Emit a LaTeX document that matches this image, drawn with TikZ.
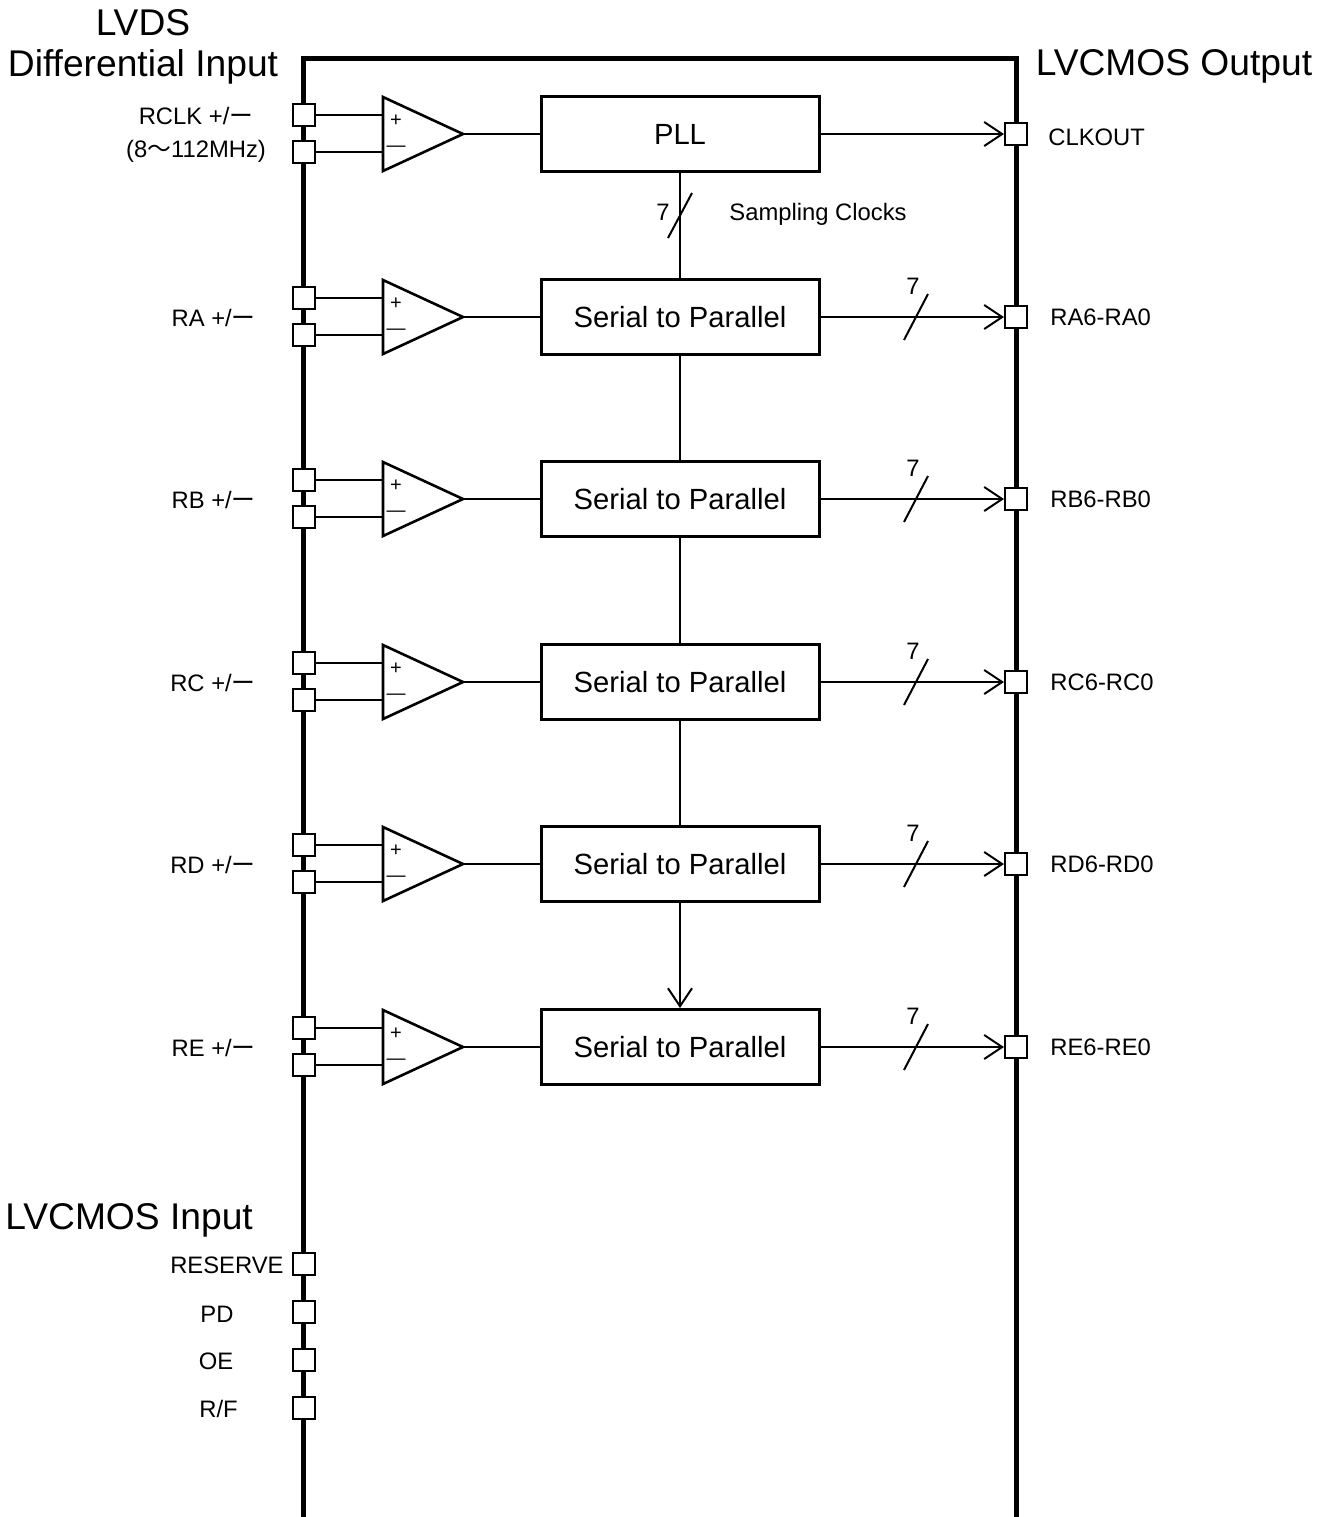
\documentclass[tikz,border=0pt]{standalone}
\usepackage{fontspec}
\setmainfont{Liberation Sans}
\newfontfamily\cjk{Noto Sans CJK JP}
\usetikzlibrary{arrows.meta}
\begin{document}
\begin{tikzpicture}[x=0.5pt,y=-0.5pt,
  pin/.style={draw,fill=white,line width=1pt,minimum size=11pt,inner sep=0pt},
  blk/.style={draw,line width=1.5pt,minimum width=139pt,minimum height=37.5pt,inner sep=0pt,font=\fontsize{14.6}{17}\selectfont},
  wire/.style={line width=1pt},
  amp/.style={line width=1.3pt,line join=miter},
  arr/.style={-{Straight Barb[length=9pt,width=12pt]}},
  lbl/.style={inner sep=0pt,font=\fontsize{11.9}{14}\selectfont},
  sgn/.style={inner sep=0pt,font=\fontsize{10}{12}\selectfont},
  head/.style={inner sep=0pt,font=\fontsize{18.6}{22}\selectfont},
]
\useasboundingbox (0,0) rectangle (1334,1517);
% chip outline
\draw[line width=2.5pt,line join=miter] (303,1530) -- (303,58) -- (1016,58) -- (1016,1530);
% headings
\node[head,anchor=base] (h1) at (143,35) {LVDS};
\node[head,anchor=base] (h2) at (143,76) {Differential Input};
\node[head,anchor=base] (h3) at (1174,75) {LVCMOS Output};
\node[head,anchor=base west] (h4) at (5,1229) {LVCMOS Input};
% blocks
\node[blk] (b0) at (680,134) {PLL};
\foreach \i/\yc in {1/317,2/499,3/682,4/864,5/1047}
  \node[blk] (b\i) at (680,\yc) {Serial to Parallel};
% rows
\foreach \i/\yc in {0/134,1/317,2/499,3/682,4/864,5/1047} {
  \node[pin] (pa\i) at (304,\yc-19) {};
  \node[pin] (pb\i) at (304,\yc+18) {};
  \coordinate (ap\i) at (383,\yc-19);
  \coordinate (am\i) at (383,\yc+18);
  \coordinate (ao\i) at (463,\yc);
  \draw[amp] (383,\yc-37) -- (ao\i) -- (383,\yc+37) -- cycle;
  \draw[wire] (pa\i) -- (ap\i);
  \draw[wire] (pb\i) -- (am\i);
  \node[sgn] (sp\i) at (396,\yc-13.5) {+};
  \node[sgn,font=\fontsize{9.5}{10}\selectfont] (sm\i) at (396,\yc+14.5) {—};
  \draw[wire] (ao\i) -- (b\i);
  \node[pin] (o\i) at (1016,\yc) {};
  \draw[wire,arr] (b\i) -- (o\i);
}
% bus slashes on outputs
\foreach \yc in {317,499,682,864,1047} {
  \draw[wire] (904,\yc+23) -- (928,\yc-23);
  \node[lbl] at (913,\yc-31) {7};
}
% vertical chain
\draw[wire] (b0) -- (b1);
\draw[wire] (668,238) -- (692,193);
\node[lbl] (n7) at (663,212) {7};
\node[lbl,anchor=base west] (sc) at (729,220) {Sampling Clocks};
\draw[wire] (b1) -- (b2);
\draw[wire] (b2) -- (b3);
\draw[wire] (b3) -- (b4);
\draw[wire,arr] (b4) -- (b5);
% left labels
\node[lbl,anchor=base] (l0a) at (196,124.5) {RCLK +/{\cjk ー}};
\node[lbl,anchor=base] (l0b) at (196,157) {(8{\cjk 〜}112MHz)};
\node[lbl,anchor=base east] (l1) at (256,326) {RA +/{\cjk ー}};
\node[lbl,anchor=base east] (l2) at (256,508) {RB +/{\cjk ー}};
\node[lbl,anchor=base east] (l3) at (256,691) {RC +/{\cjk ー}};
\node[lbl,anchor=base east] (l4) at (256,873) {RD +/{\cjk ー}};
\node[lbl,anchor=base east] (l5) at (256,1056) {RE +/{\cjk ー}};
% right labels
\node[lbl,anchor=base west] (r0) at (1048,145) {CLKOUT};
\node[lbl,anchor=base west] (r1) at (1050,325) {RA6-RA0};
\node[lbl,anchor=base west] (r2) at (1050,507) {RB6-RB0};
\node[lbl,anchor=base west] (r3) at (1050,690) {RC6-RC0};
\node[lbl,anchor=base west] (r4) at (1050,872) {RD6-RD0};
\node[lbl,anchor=base west] (r5) at (1050,1055) {RE6-RE0};
% LVCMOS input pins
\node[pin] (q1) at (304,1264) {};
\node[pin] (q2) at (304,1312) {};
\node[pin] (q3) at (304,1360) {};
\node[pin] (q4) at (304,1408) {};
\node[lbl,anchor=base east] (t1) at (284,1273) {RESERVE};
\node[lbl,anchor=base] (t2) at (217,1322) {PD};
\node[lbl,anchor=base] (t3) at (216,1369) {OE};
\node[lbl,anchor=base] (t4) at (218.5,1417) {R/F};
\end{tikzpicture}
\end{document}
